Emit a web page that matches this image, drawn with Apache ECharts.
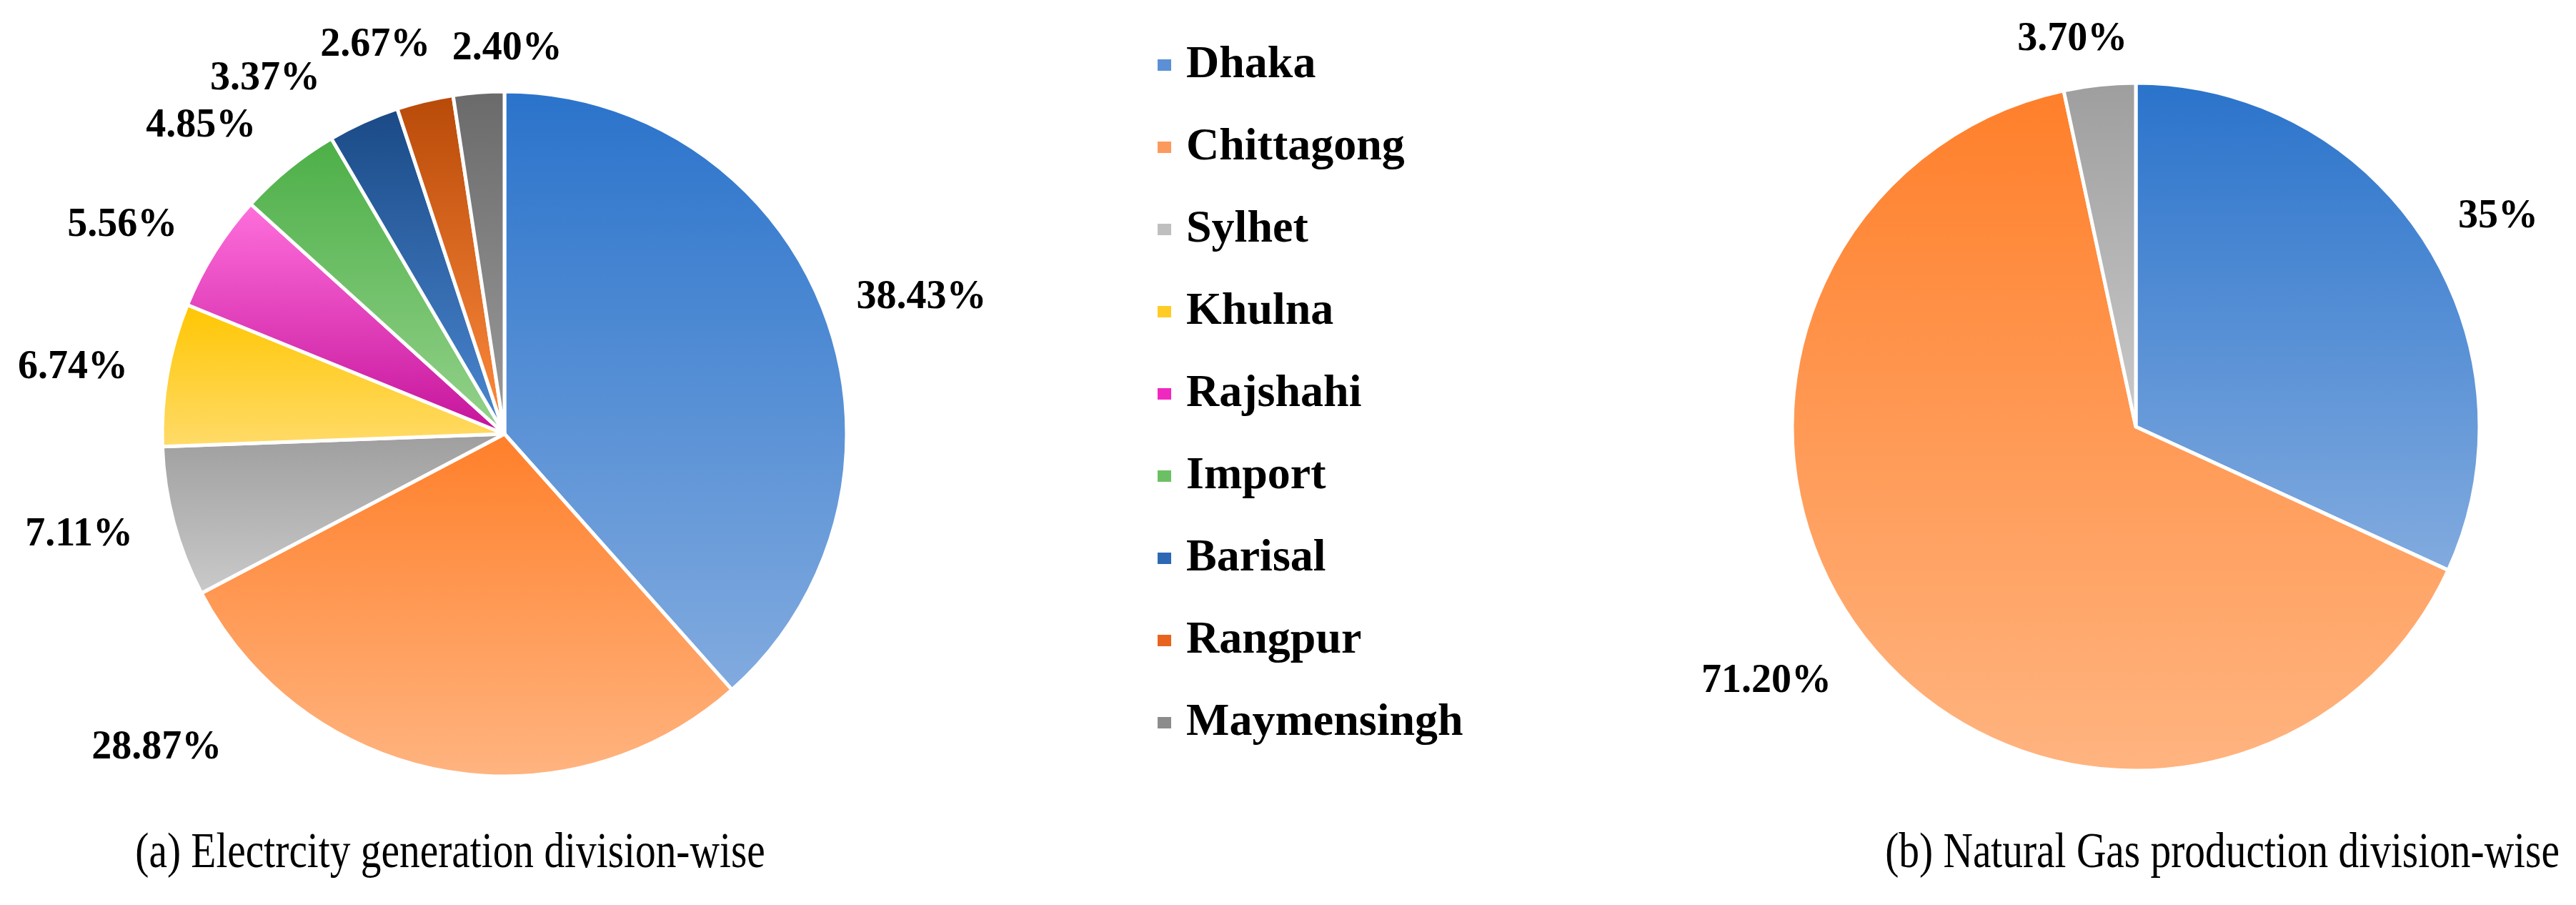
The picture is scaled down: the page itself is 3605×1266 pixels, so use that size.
<!DOCTYPE html>
<html>
<head>
<meta charset="utf-8">
<script src="https://cdn.jsdelivr.net/npm/echarts@6/dist/echarts.min.js"></script>
<style>
  html, body { margin: 0; padding: 0; background: #fff; }
  #chart { width: 3605px; height: 1266px; }
</style>
</head>
<body>
<div id="chart"></div>
<script>
// Division-wise shares (a) electricity, (b) natural gas
const divisions = ['Dhaka', 'Chittagong', 'Sylhet', 'Khulna', 'Rajshahi', 'Import', 'Barisal', 'Rangpur', 'Maymensingh'];
const electricityShare = [38.43, 28.87, 7.11, 6.74, 5.56, 4.85, 3.37, 2.67, 2.40];

const gasDivisions = ['Dhaka', 'Chittagong', 'Sylhet'];
const gasShare = [35, 71.20, 3.70];

const titleA = '(a) Electrcity generation division-wise';
const titleB = '(b) Natural Gas production division-wise';

// gradient fills, top colour -> bottom colour (like the office style)
const topColors = {
  Dhaka: '#2a73cb', Chittagong: '#ff7f2a', Sylhet: '#9e9e9e', Khulna: '#ffc600',
  Rajshahi: '#ff70dc', Import: '#4caf47', Barisal: '#1a4a86', Rangpur: '#b84a08', Maymensingh: '#6a6a6a'
};
const bottomColors = {
  Dhaka: '#82abdf', Chittagong: '#ffb480', Sylhet: '#cacaca', Khulna: '#ffdb6a',
  Rajshahi: '#c4129a', Import: '#95d28c', Barisal: '#4c88d2', Rangpur: '#ff8b3e', Maymensingh: '#9c9c9c'
};
const legendColors = {
  Dhaka: '#5b90d6', Chittagong: '#fb9a5c', Sylhet: '#bfbfbf', Khulna: '#ffcc26',
  Rajshahi: '#f028c0', Import: '#6cc064', Barisal: '#2d68b4', Rangpur: '#e8641e', Maymensingh: '#8c8c8c'
};

// label spots: [angle clockwise from 12 o'clock, distance from centre]
const labelSpotsA = [[71.9, 614], [227.9, 656], [256.6, 612], [278.7, 611], [298.6, 609], [315.4, 605], [326, 599], [341.6, 573], [0.4, 538]];
const labelSpotsB = [[59.9, 586], [235.4, 628], [350.7, 549]];

const pieA = { cx: 706, cy: 607, r: 479 };
const pieB = { cx: 2989, cy: 597, r: 481 };

function fillFor(name) {
  return new echarts.graphic.LinearGradient(0, 0, 0, 1, [
    { offset: 0, color: topColors[name] },
    { offset: 1, color: bottomColors[name] }
  ]);
}

function makeData(names, values) {
  let out = [];
  for (let i = 0; i < names.length; i++) {
    out.push({ name: names[i], value: values[i], itemStyle: { color: fillFor(names[i]) } });
  }
  return out;
}

function spotLayout(pie, spots) {
  return function (p) {
    const s = spots[p.dataIndex];
    const a = s[0] * Math.PI / 180;
    return {
      x: pie.cx + s[1] * Math.sin(a),
      y: pie.cy - s[1] * Math.cos(a),
      align: 'center',
      verticalAlign: 'middle'
    };
  };
}

function pctText(p) {
  const v = p.value;
  return (Number.isInteger(v) ? v : v.toFixed(2)) + '%';
}

const labelStyle = {
  show: true,
  position: 'outside',
  formatter: pctText,
  fontFamily: '"Liberation Serif", "Times New Roman", serif',
  fontWeight: 'bold',
  fontSize: 56,
  color: '#000'
};

const chart = echarts.init(document.getElementById('chart'), null, { renderer: 'canvas' });

chart.setOption({
  backgroundColor: '#ffffff',
  animation: false,
  legend: {
    orient: 'vertical',
    left: 1613,
    top: 54,
    icon: 'rect',
    itemWidth: 21,
    itemHeight: 18,
    itemGap: 51,
    selectedMode: false,
    textStyle: {
      fontFamily: '"Liberation Serif", "Times New Roman", serif',
      fontWeight: 'bold',
      fontSize: 64,
      lineHeight: 64,
      color: '#000',
      padding: [0, 0, 0, 15]
    },
    data: divisions.map(n => ({ name: n, itemStyle: { color: legendColors[n] } }))
  },
  graphic: [
    {
      type: 'text', x: 630, y: 1195, scaleX: 0.82,
      style: { text: titleA, font: '70px "Liberation Serif", "Times New Roman", serif', fill: '#000', align: 'center', verticalAlign: 'middle' }
    },
    {
      type: 'text', x: 3110, y: 1195, scaleX: 0.82,
      style: { text: titleB, font: '70px "Liberation Serif", "Times New Roman", serif', fill: '#000', align: 'center', verticalAlign: 'middle' }
    }
  ],
  series: [
    {
      name: 'Electricity',
      type: 'pie',
      center: [pieA.cx, pieA.cy],
      radius: pieA.r,
      startAngle: 90,
      clockwise: true,
      avoidLabelOverlap: false,
      itemStyle: { borderColor: '#fff', borderWidth: 5 },
      label: labelStyle,
      labelLine: { show: false },
      labelLayout: spotLayout(pieA, labelSpotsA),
      emphasis: { disabled: true },
      data: makeData(divisions, electricityShare)
    },
    {
      name: 'Natural Gas',
      type: 'pie',
      center: [pieB.cx, pieB.cy],
      radius: pieB.r,
      startAngle: 90,
      clockwise: true,
      avoidLabelOverlap: false,
      itemStyle: { borderColor: '#fff', borderWidth: 5 },
      label: labelStyle,
      labelLine: { show: false },
      labelLayout: spotLayout(pieB, labelSpotsB),
      emphasis: { disabled: true },
      data: makeData(gasDivisions, gasShare)
    }
  ]
});
</script>
</body>
</html>
